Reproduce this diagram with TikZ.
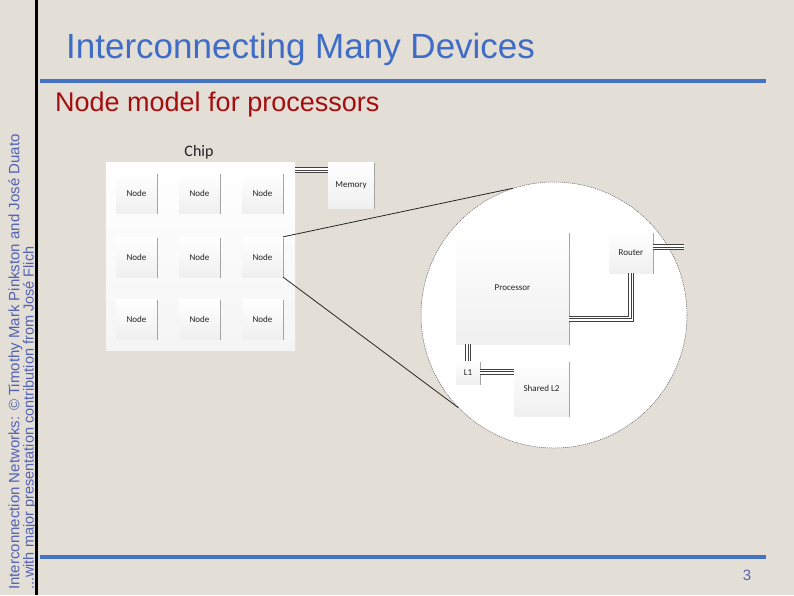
\documentclass[tikz,border=0pt]{standalone}
\usepackage{fontspec}
\setmainfont{Liberation Sans}
\newfontfamily\carl{Carlito}
\usetikzlibrary{calc}
\definecolor{bg}{HTML}{E4DFD6}
\definecolor{ttl}{HTML}{3F6CC6}
\definecolor{subred}{HTML}{A40E0E}
\definecolor{side}{HTML}{5262B4}
\definecolor{rulec}{HTML}{4472C4}
\definecolor{busc}{HTML}{404040}
\definecolor{lbl}{HTML}{222222}
\begin{document}
\begin{tikzpicture}[x=1pt,y=-1pt,
  box/.style={top color=white, bottom color=black!6, inner sep=0pt,
    font=\carl\fontsize{9}{10}\selectfont, text=lbl,
    preaction={fill=black!40, transform canvas={xshift=0.8pt,yshift=-0.8pt}}},
  nodebox/.style={box, minimum width=41pt, minimum height=40pt},
  bus/.style={draw=busc, line width=6pt,
    postaction={draw=white, line width=4pt},
    postaction={draw=busc, line width=1pt}},
  zoomline/.style={draw=black!85, line width=0.8pt}]
\fill[bg] (0,0) rectangle (794,595);
\useasboundingbox (0,0) rectangle (794,595);
% title area
\node[anchor=base west, inner sep=0pt, text=ttl, font=\fontsize{35}{40}\selectfont] (title) at (66,58) {Interconnecting Many Devices};
\draw[rulec, line width=4pt] (40,81) -- (766,81);
\node[anchor=base west, inner sep=0pt, text=subred, font=\fontsize{27}{30}\selectfont] (subtitle) at (55,111) {Node model for processors};
% side text
\node[rotate=90, anchor=base west, inner sep=0pt, text=side, font=\fontsize{15}{18}\selectfont] (side1) at (19.5,590) {Interconnection Networks: © Timothy Mark Pinkston and José Duato};
\node[rotate=90, anchor=base west, inner sep=0pt, text=side, font=\fontsize{14.5}{18}\selectfont] (side2) at (33.5,590) {...with major presentation contribution from José Flich};
\fill[black] (35,0) rectangle (38,595);
\draw[rulec, line width=4pt] (40,557) -- (766,557);
\node[anchor=base, inner sep=0pt, text=side, font=\fontsize{15}{18}\selectfont] (page) at (747,580) {3};
% chip
\node[top color=white, bottom color=black!4, minimum width=189pt, minimum height=188pt, inner sep=0pt] (chip) at (200.5,256) {};
\node[font=\carl\fontsize{16}{18}\selectfont, text=lbl, inner sep=0pt] (chiplbl) at (199,152) {Chip};
\node[nodebox] (n11) at (136.5,193) {Node};
\node[nodebox] (n12) at (199.5,193) {Node};
\node[nodebox] (n13) at (262.5,193) {Node};
\node[nodebox] (n21) at (136.5,257) {Node};
\node[nodebox] (n22) at (199.5,257) {Node};
\node[nodebox] (n23) at (262.5,257) {Node};
\node[nodebox] (n31) at (136.5,319) {Node};
\node[nodebox] (n32) at (199.5,319) {Node};
\node[nodebox] (n33) at (262.5,319) {Node};
\node[box, minimum width=46pt, minimum height=46pt] (mem) at (351,185) {Memory};
\coordinate (cm) at (295,170);
\draw[bus] (cm) -- (cm -| mem.west);
% zoom circle
\node[circle, fill=white, draw=black!60, line width=0.5pt, dash pattern=on 1.2pt off 0.8pt, minimum size=266pt, inner sep=0pt] (zoom) at (554,315) {};
\draw[zoomline] (n23.north east) -- (zoom.108);
\draw[zoomline] (n23.south east) -- (zoom.224);
\node[box, minimum width=113pt, minimum height=112pt] (proc) at (512.5,288) {Processor};
\node[box, minimum width=44pt, minimum height=41pt] (router) at (631,252.5) {Router};
\node[box, minimum width=24pt, minimum height=23pt] (l1) at (468,372.5) {L1};
\node[box, minimum width=55pt, minimum height=55pt] (l2) at (541.5,388.5) {Shared L2};
\draw[bus] (l1.north) -- (l1.north |- proc.south);
\coordinate (l1e) at ($(l1.east)+(0,-1)$);
\draw[bus] (l1e) -- (l1e -| l2.west);
\coordinate (pe) at ($(proc.east)+(0,30.5)$);
\draw[bus] (pe) -| (router.south);
\coordinate (rout) at (684,247);
\draw[bus] (router.east |- rout) -- (rout);
\end{tikzpicture}
\end{document}
